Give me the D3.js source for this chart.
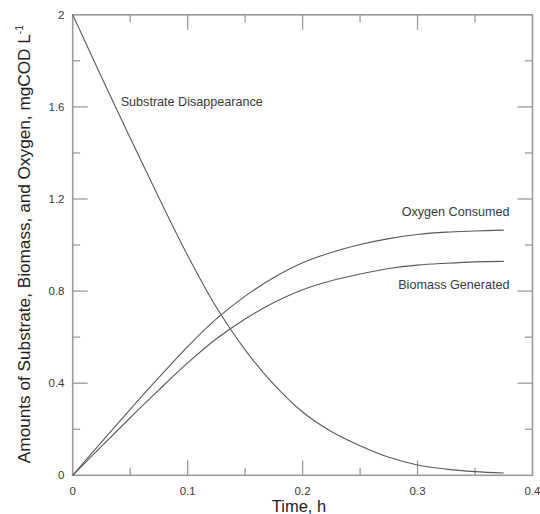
<!DOCTYPE html>
<html>
<head>
<meta charset="utf-8">
<script src="https://cdn.jsdelivr.net/npm/d3@7"></script>
<style>
  html, body { margin: 0; padding: 0; background: #fff; }
  svg { display: block; font-family: "Liberation Sans", Arial, sans-serif; }
</style>
</head>
<body>
<svg id="chart" width="540" height="514"></svg>
<script>
// Data
const time = [0, 0.025, 0.05, 0.075, 0.1, 0.125, 0.15, 0.175, 0.2, 0.225, 0.25, 0.275, 0.3, 0.325, 0.35, 0.375];
const substrate = [2.0, 1.73, 1.465, 1.205, 0.955, 0.73, 0.545, 0.395, 0.275, 0.19, 0.128, 0.078, 0.045, 0.027, 0.016, 0.010];
const oxygen = [0, 0.144, 0.286, 0.425, 0.559, 0.679, 0.778, 0.859, 0.923, 0.968, 1.002, 1.028, 1.046, 1.056, 1.061, 1.065];
const biomass = [0, 0.126, 0.250, 0.371, 0.488, 0.593, 0.679, 0.750, 0.806, 0.845, 0.874, 0.898, 0.913, 0.921, 0.927, 0.929];
const xTicks = [0, 0.1, 0.2, 0.3, 0.4];
const yTicks = [0, 0.4, 0.8, 1.2, 1.6, 2];
const xMinor = [0.05, 0.15, 0.25, 0.35];
const yMinor = [0.2, 0.6, 1.0, 1.4, 1.8];
const labels = [
  { text: "Substrate Disappearance", anchor: "start" },
  { text: "Oxygen Consumed", anchor: "end" },
  { text: "Biomass Generated", anchor: "end" }
];

const svg = d3.select("#chart");
const L = 72.7, R = 532.5, T = 14.8, B = 475.3;
const x = d3.scaleLinear().domain([0, 0.4]).range([L, R]);
const y = d3.scaleLinear().domain([0, 2]).range([B, T]);

const frameColor = "#9a9a9a";
const textColor = "#3a3a3a";
const lineColor = "#5a5a5a";

// ticks (inward, all four sides)
const g = svg.append("g");
const majorLen = 15, minorLen = 7.5;
function tickLines(vals, len, horizontal) {
  vals.forEach(v => {
    if (horizontal) {
      g.append("line").attr("x1", x(v)).attr("x2", x(v)).attr("y1", B).attr("y2", B - len)
        .attr("stroke", frameColor).attr("stroke-width", 1.3);
      g.append("line").attr("x1", x(v)).attr("x2", x(v)).attr("y1", T).attr("y2", T + len)
        .attr("stroke", frameColor).attr("stroke-width", 1.3);
    } else {
      g.append("line").attr("y1", y(v)).attr("y2", y(v)).attr("x1", L).attr("x2", L + len)
        .attr("stroke", frameColor).attr("stroke-width", 1.3);
      g.append("line").attr("y1", y(v)).attr("y2", y(v)).attr("x1", R).attr("x2", R - len)
        .attr("stroke", frameColor).attr("stroke-width", 1.3);
    }
  });
}
tickLines(xTicks.slice(1, -1), majorLen, true);
tickLines(xMinor, minorLen, true);
tickLines(yTicks.slice(1, -1), majorLen, false);
tickLines(yMinor, minorLen, false);

// frame
svg.append("rect").attr("x", L).attr("y", T).attr("width", R - L).attr("height", B - T)
  .attr("fill", "none").attr("stroke", frameColor).attr("stroke-width", 1.6);

// tick labels
svg.append("g").selectAll("text").data(xTicks).join("text")
  .attr("x", d => x(d)).attr("y", 495)
  .attr("text-anchor", "middle").attr("font-size", 11.5).attr("fill", textColor)
  .text(d => d3.format("~g")(d));
svg.append("g").selectAll("text").data(yTicks).join("text")
  .attr("x", 64.5).attr("y", d => y(d) + 4)
  .attr("text-anchor", "end").attr("font-size", 11.5).attr("fill", textColor)
  .text(d => d3.format("~g")(d));

// axis titles
svg.append("text").attr("x", 299).attr("y", 511.5).attr("text-anchor", "middle")
  .attr("font-size", 16.5).attr("fill", "#222").text("Time, h");
const yt = svg.append("text").attr("transform", "translate(29.5,244) rotate(-90)")
  .attr("text-anchor", "middle").attr("font-size", 17.2).attr("fill", "#222");
yt.append("tspan").text("Amounts of Substrate, Biomass, and Oxygen, mgCOD L");
yt.append("tspan").attr("font-size", 10.5).attr("dy", -6.5).text("-1");

// curves
const line = d3.line().x((d, i) => x(time[i])).y(d => y(d)).curve(d3.curveCatmullRom.alpha(0.5));
[substrate, oxygen, biomass].forEach(s => {
  svg.append("path").attr("d", line(s)).attr("fill", "none")
    .attr("stroke", lineColor).attr("stroke-width", 1.1);
});

// curve labels
const labelPos = [[120.7, 106], [509.5, 216], [509.5, 288.5]];
labels.forEach((l, i) => {
  svg.append("text").attr("x", labelPos[i][0]).attr("y", labelPos[i][1])
    .attr("text-anchor", l.anchor).attr("font-size", 12.6).attr("fill", textColor)
    .text(l.text);
});
</script>
</body>
</html>
